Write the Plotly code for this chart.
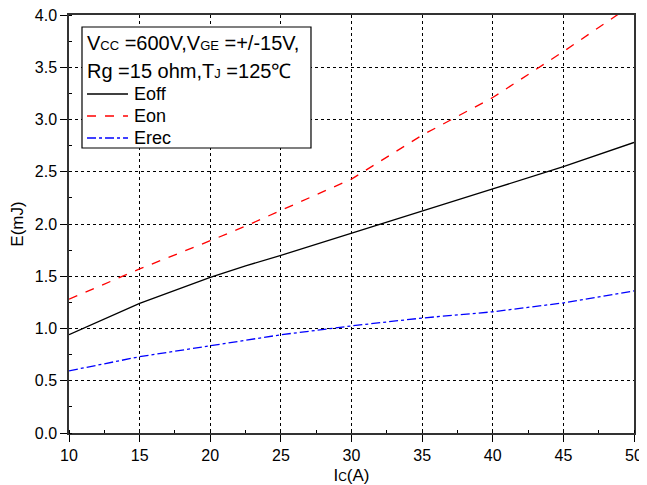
import plotly.graph_objects as go

# Collector current Ic (A)
ic = [10, 15, 20, 22.5, 25, 30, 35, 40, 45, 50]
# Switching energies (mJ)
eoff = [0.94, 1.24, 1.49, 1.60, 1.70, 1.91, 2.12, 2.335, 2.55, 2.78]
eon = [1.28, 1.57, 1.84, 1.98, 2.13, 2.43, 2.85, 3.21, 3.65, 4.11]
erec = [0.595, 0.73, 0.835, 0.89, 0.94, 1.025, 1.10, 1.16, 1.245, 1.36]

x_ticks = [10, 15, 20, 25, 30, 35, 40, 45, 50]
y_ticks = [0.0, 0.5, 1.0, 1.5, 2.0, 2.5, 3.0, 3.5, 4.0]

series_names = ["Eoff", "Eon", "Erec"]
series_colors = ["black", "red", "blue"]
series_dash = ["solid", "dash", "dashdot"]

FONT = "Arial, Liberation Sans, sans-serif"


def small(t, size=13):
    return "<span style='font-size:%dpx'>%s</span>" % (size, t)


fig = go.Figure()
for name, ys, col, dash in zip(series_names, [eoff, eon, erec], series_colors, series_dash):
    fig.add_trace(go.Scatter(x=ic, y=ys, name=name, mode="lines", showlegend=False,
                             line=dict(color=col, width=1.3, dash=dash)))

# page body has an 8px margin, so the figure is sized to fill the rest
fig.update_layout(
    width=639, height=477,
    margin=dict(l=61, r=13, t=7, b=52),
    paper_bgcolor="white", plot_bgcolor="white",
    font=dict(family=FONT, size=16, color="black"),
    showlegend=False,
    xaxis=dict(
        range=[10, 50], tickvals=x_ticks, ticks="outside", ticklen=7,
        tickcolor="black", showline=True, linecolor="#333", linewidth=1.5,
        mirror=True, showgrid=True, gridcolor="black", griddash="dot",
        gridwidth=1, zeroline=False, automargin=False,
        ticklabeloverflow="allow",
        minor=dict(dtick=2.5, ticks="inside", ticklen=3, tickcolor="black", showgrid=False),
        title=dict(text="I" + small("C", 12) + "(A)", font=dict(size=17)),
    ),
    yaxis=dict(
        range=[0, 4.0], tickvals=y_ticks, tickformat=".1f", ticks="outside",
        ticklen=7, tickcolor="black", showline=True, linecolor="#333",
        linewidth=1.5, mirror=True, showgrid=True, gridcolor="black",
        griddash="dot", gridwidth=1, zeroline=False, automargin=False,
        ticklabeloverflow="allow",
        minor=dict(dtick=0.25, ticks="inside", ticklen=3, tickcolor="black", showgrid=False),
        title=dict(text="E(mJ)", font=dict(size=17)),
    ),
)

# legend box (drawn by hand for exact spacing)
fig.add_shape(type="rect", xref="paper", yref="paper", x0=0.023, x1=0.4283,
              y0=0.6818, y1=0.9713, fillcolor="white",
              line=dict(color="black", width=1.2), layer="above")
title_lines = [
    "V" + small("CC") + " =600V,V" + small("GE") + " =+/-15V,",
    "Rg =15 ohm,T" + small("J") + " =125℃",
]
for txt, yy in zip(title_lines, [0.933, 0.866]):
    fig.add_annotation(text=txt, xref="paper", yref="paper", x=0.028, y=yy,
                       xanchor="left", yanchor="middle", showarrow=False,
                       font=dict(size=20))
for name, col, dash, yy in zip(series_names, series_colors, series_dash,
                               [0.811, 0.7584, 0.7057]):
    fig.add_shape(type="line", xref="paper", yref="paper", x0=0.0319, x1=0.1044,
                  y0=yy, y1=yy, line=dict(color=col, width=1.3, dash=dash), layer="above")
    fig.add_annotation(text=name, xref="paper", yref="paper", x=0.112, y=yy,
                       xanchor="left", yanchor="middle", showarrow=False,
                       font=dict(size=18))

fig.write_html("out.html")
